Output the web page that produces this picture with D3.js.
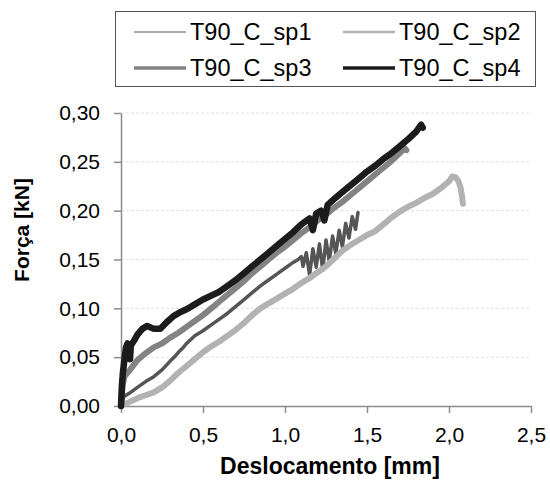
<!DOCTYPE html>
<html>
<head>
<meta charset="utf-8">
<script src="https://cdnjs.cloudflare.com/ajax/libs/d3/7.8.5/d3.min.js"></script>
<style>
  body { margin: 0; background: #fff; }
  text { font-family: "Liberation Sans", Arial, sans-serif; fill: #000; }
</style>
</head>
<body>
<script>
// series names
const names = ['T90_C_sp1', 'T90_C_sp2', 'T90_C_sp3', 'T90_C_sp4'];

// [deslocamento mm, força kN]
const sp1 = [[0,0],[0.01,0.006],[0.02,0.01],[0.05,0.013],[0.1,0.019],[0.15,0.025],[0.2,0.03],[0.25,0.037],
  [0.3,0.046],[0.33,0.051],[0.35,0.055],[0.38,0.06],[0.4,0.064],[0.45,0.072],[0.5,0.077],[0.55,0.083],
  [0.6,0.089],[0.65,0.095],[0.7,0.102],[0.75,0.109],[0.8,0.116],[0.85,0.123],[0.9,0.129],[0.95,0.135],
  [1.0,0.141],[1.05,0.147],[1.08,0.15],[1.1,0.153],[1.11,0.143],[1.13,0.157],[1.15,0.134],[1.17,0.161],
  [1.19,0.142],[1.21,0.166],[1.23,0.139],[1.25,0.17],[1.27,0.148],[1.29,0.174],[1.31,0.156],[1.33,0.18],
  [1.35,0.163],[1.37,0.187],[1.39,0.172],[1.41,0.194],[1.43,0.181],[1.445,0.198]];

const sp2 = [[0,0],[0.05,0.004],[0.1,0.008],[0.15,0.011],[0.2,0.014],[0.25,0.019],[0.3,0.026],[0.35,0.034],
  [0.4,0.041],[0.45,0.048],[0.5,0.055],[0.55,0.061],[0.6,0.066],[0.65,0.072],[0.7,0.078],[0.75,0.085],
  [0.8,0.093],[0.85,0.1],[0.9,0.105],[0.95,0.11],[1.0,0.115],[1.05,0.12],[1.1,0.126],[1.15,0.131],
  [1.2,0.137],[1.25,0.143],[1.3,0.151],[1.35,0.159],[1.4,0.165],[1.45,0.17],[1.5,0.175],[1.55,0.179],
  [1.6,0.186],[1.65,0.193],[1.7,0.199],[1.75,0.204],[1.8,0.208],[1.85,0.213],[1.9,0.217],[1.95,0.223],
  [2.0,0.23],[2.02,0.235],[2.04,0.234],[2.055,0.231],[2.07,0.224],[2.08,0.214],[2.085,0.207]];

const sp3 = [[0,0],[0.01,0.02],[0.02,0.03],[0.05,0.036],[0.1,0.047],[0.15,0.054],[0.2,0.06],[0.25,0.064],
  [0.3,0.07],[0.35,0.075],[0.4,0.081],[0.45,0.087],[0.5,0.093],[0.55,0.1],[0.6,0.107],[0.65,0.114],
  [0.7,0.121],[0.75,0.128],[0.8,0.136],[0.85,0.143],[0.9,0.15],[0.95,0.157],[1.0,0.163],[1.05,0.17],
  [1.1,0.177],[1.15,0.183],[1.2,0.19],[1.25,0.196],[1.3,0.203],[1.35,0.209],[1.4,0.216],[1.45,0.223],
  [1.5,0.23],[1.55,0.237],[1.6,0.244],[1.65,0.251],[1.7,0.259],[1.73,0.264],[1.74,0.262]];

const sp4 = [[0,0],[0.005,0.02],[0.012,0.035],[0.02,0.046],[0.03,0.06],[0.04,0.064],[0.05,0.058],[0.055,0.048],
  [0.06,0.062],[0.08,0.067],[0.1,0.073],[0.13,0.079],[0.16,0.082],[0.2,0.079],[0.24,0.079],[0.28,0.086],
  [0.32,0.092],[0.36,0.096],[0.4,0.099],[0.44,0.103],[0.5,0.109],[0.55,0.113],[0.6,0.117],[0.65,0.123],
  [0.7,0.129],[0.75,0.136],[0.8,0.143],[0.85,0.15],[0.9,0.157],[0.95,0.164],[1.0,0.171],[1.05,0.178],
  [1.1,0.186],[1.15,0.192],[1.17,0.18],[1.19,0.197],[1.22,0.2],[1.24,0.19],[1.26,0.206],[1.3,0.212],
  [1.35,0.219],[1.4,0.226],[1.45,0.233],[1.5,0.24],[1.55,0.246],[1.6,0.253],[1.65,0.259],[1.7,0.266],
  [1.75,0.273],[1.8,0.281],[1.83,0.288],[1.84,0.285]];

const series = [sp1, sp2, sp3, sp4];
const colors = ['#555555', '#b2b2b2', '#838383', '#1c1c1c'];
const widths = [3.5, 6, 6, 6.5];
const legendWidths = [1, 2.5, 3.5, 3.5];

const xTicks = [0, 0.5, 1.0, 1.5, 2.0, 2.5];
const xTickLabels = ['0,0', '0,5', '1,0', '1,5', '2,0', '2,5'];
const yTicks = [0, 0.05, 0.10, 0.15, 0.20, 0.25, 0.30];
const yTickLabels = ['0,00', '0,05', '0,10', '0,15', '0,20', '0,25', '0,30'];

const svg = d3.select('body').append('svg')
  .attr('width', 550)
  .attr('height', 491);

const x = d3.scaleLinear().domain([0, 2.5]).range([121, 531]);
const y = d3.scaleLinear().domain([0, 0.30]).range([406, 113]);

// gridlines
svg.append('g')
  .selectAll('line')
  .data(yTicks.slice(1))
  .enter().append('line')
  .attr('x1', x(0)).attr('x2', x(2.5))
  .attr('y1', d => y(d)).attr('y2', d => y(d))
  .attr('stroke', '#e2e2e2')
  .attr('stroke-dasharray', '3,2');

// axes
const yAxis = svg.append('g')
  .attr('transform', `translate(${x(0)},0)`)
  .call(d3.axisLeft(y).tickValues(yTicks).tickSize(7).tickSizeOuter(0).tickPadding(14)
    .tickFormat((d, i) => yTickLabels[i]));

const xAxis = svg.append('g')
  .attr('transform', `translate(0,${y(0)})`)
  .call(d3.axisBottom(x).tickValues(xTicks).tickSize(7).tickSizeOuter(0).tickPadding(14)
    .tickFormat((d, i) => xTickLabels[i]));

[xAxis, yAxis].forEach(a => {
  a.select('.domain').attr('stroke', '#8c8c8c').attr('stroke-width', 1.5);
  a.selectAll('.tick line').attr('stroke', '#8c8c8c').attr('stroke-width', 1.5);
  a.selectAll('.tick text').attr('font-size', 21).attr('font-family', '"Liberation Sans", Arial, sans-serif').attr('fill', '#000');
});

// lines
const line = d3.line().x(d => x(d[0])).y(d => y(d[1]));

svg.append('g')
  .selectAll('path')
  .data(series)
  .enter().append('path')
  .attr('d', line)
  .attr('fill', 'none')
  .attr('stroke', (d, i) => colors[i])
  .attr('stroke-width', (d, i) => widths[i])
  .attr('stroke-linejoin', 'round')
  .attr('stroke-linecap', 'round');

// axis titles
svg.append('text')
  .attr('x', 330).attr('y', 474)
  .attr('text-anchor', 'middle')
  .attr('font-size', 23).attr('font-weight', 'bold')
  .text('Deslocamento [mm]');

svg.append('text')
  .attr('transform', 'translate(29,230) rotate(-90)')
  .attr('text-anchor', 'middle')
  .attr('font-size', 21).attr('font-weight', 'bold')
  .text('Força [kN]');

// legend
const legend = svg.append('g');
legend.append('rect')
  .attr('x', 115.5).attr('y', 11.5)
  .attr('width', 420).attr('height', 75)
  .attr('fill', '#fff')
  .attr('stroke', '#555')
  .attr('stroke-width', 1);

const legItems = legend.selectAll('g.item')
  .data(names)
  .enter().append('g')
  .attr('transform', (d, i) => `translate(${i % 2 === 0 ? 134 : 343},${i < 2 ? 32 : 68})`);

legItems.append('line')
  .attr('x1', 0).attr('x2', 52)
  .attr('stroke', (d, i) => colors[i])
  .attr('stroke-width', (d, i) => legendWidths[i]);

legItems.append('text')
  .attr('x', 56).attr('dy', '0.35em')
  .attr('font-size', 23.5)
  .text(d => d);
</script>
</body>
</html>
